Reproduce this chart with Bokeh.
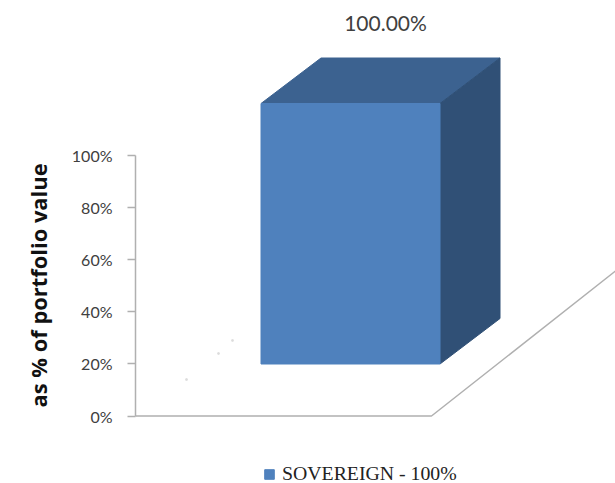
from bokeh.plotting import figure
from bokeh.models import Range1d, FixedTicker, PrintfTickFormatter, Legend, LegendItem, Title, LinearAxis
from bokeh.core.properties import value
from bokeh.embed import file_html
from bokeh.resources import INLINE

categories = ["SOVEREIGN"]
shares = [100.0]
axis_ticks = [0, 20, 40, 60, 80, 100]
axis_title = "as % of portfolio value"
data_labels = ["100.00%"]
legend_labels = ["SOVEREIGN - 100%"]
speck_x = [51, 83, 97]
speck_y = [14, 24, 29]

WIDTH, HEIGHT = 615, 483
LEFT_PANEL = 135
PX_PER_UNIT = 2.605
# 3-D projection of the chart, in screen pixels / value units
BAR_X0, BAR_X1 = 125.5, 304.5      # front face, px right of the value axis
BAR_LIFT = 52 / PX_PER_UNIT        # front face sits above the floor's front edge
DEPTH_X, DEPTH_Y = 60, 45.5 / PX_PER_UNIT
FLOOR_X = 296
FLOOR_END_X, FLOOR_END_Y = 480, 145 / PX_PER_UNIT

FRONT, TOP, SIDE = "#4f81bd", "#3c6290", "#305076"
AXIS = "#b0b0b0"

frame_w = WIDTH - LEFT_PANEL
p = figure(width=WIDTH, height=HEIGHT, output_backend="svg", toolbar_location=None,
           x_range=Range1d(0, frame_w),
           y_range=Range1d(-67.5 / PX_PER_UNIT, 415.5 / PX_PER_UNIT),
           min_border_left=LEFT_PANEL, min_border_right=0, min_border_top=0, min_border_bottom=0,
           x_axis_location=None, outline_line_color=None, background_fill_color="white")
p.xgrid.visible = False
p.ygrid.visible = False

ax = p.yaxis[0]
ax.ticker = FixedTicker(ticks=axis_ticks)
ax.bounds = (0, 100)
ax.formatter = PrintfTickFormatter(format="%d%%")
ax.axis_line_color = AXIS
ax.axis_line_width = 1.5
ax.major_tick_line_color = AXIS
ax.major_tick_line_width = 1.5
ax.major_tick_out = 8
ax.major_tick_in = 0
ax.minor_tick_line_color = None
ax.major_label_standoff = 15
ax.major_label_text_font = "Lato"
ax.major_label_text_font_size = "16px"
ax.major_label_text_color = "#404040"

# empty axis: only keeps the axis title clear of the tick labels
spacer = LinearAxis(ticker=FixedTicker(ticks=[]), axis_line_color=None,
                    major_tick_line_color=None, minor_tick_line_color=None,
                    major_tick_in=0, major_tick_out=9, major_label_standoff=0)
p.add_layout(spacer, "left")

p.add_layout(Title(text=axis_title, align="left", offset=76, standoff=28, vertical_align="top",
                   text_font="Open Sans", text_font_style="bold",
                   text_font_size="21.9px", text_color="#111111"), "left")

# floor
p.line([0, FLOOR_X, FLOOR_END_X], [0, 0, FLOOR_END_Y], line_color=AXIS, line_width=1.5)
p.scatter(speck_x, speck_y, size=1.5, marker="square", color="#dcdcdc")

v = shares[0]
lo, hi = BAR_LIFT, BAR_LIFT + v
p.patch([BAR_X0, BAR_X1, BAR_X1 + DEPTH_X, BAR_X0 + DEPTH_X],
        [hi, hi, hi + DEPTH_Y, hi + DEPTH_Y], fill_color=TOP, line_color=TOP)
p.patch([BAR_X1, BAR_X1 + DEPTH_X, BAR_X1 + DEPTH_X, BAR_X1],
        [lo, lo + DEPTH_Y, hi + DEPTH_Y, hi], fill_color=SIDE, line_color=SIDE)
front = p.patch([BAR_X0, BAR_X1, BAR_X1, BAR_X0], [lo, lo, hi, hi],
                fill_color=FRONT, line_color=FRONT)

p.text(x=[(BAR_X0 + BAR_X1 + DEPTH_X) / 2 + 5], y=[hi + DEPTH_Y + 35.5 / PX_PER_UNIT],
       text=data_labels, text_font=value("Lato"), text_font_size="21px",
       text_color="#404040", text_align="center", text_baseline="middle")

legend = Legend(items=[LegendItem(label=legend_labels[0], renderers=[front])],
                location=(128, -2), orientation="horizontal",
                background_fill_alpha=0, border_line_color=None,
                glyph_width=12, glyph_height=12, label_standoff=7,
                label_text_font="Liberation Serif", label_text_font_size="19.8px",
                label_text_color="#222222", margin=0, padding=4)
p.add_layout(legend, "center")

open("out.html", "w").write(file_html(p, INLINE))
